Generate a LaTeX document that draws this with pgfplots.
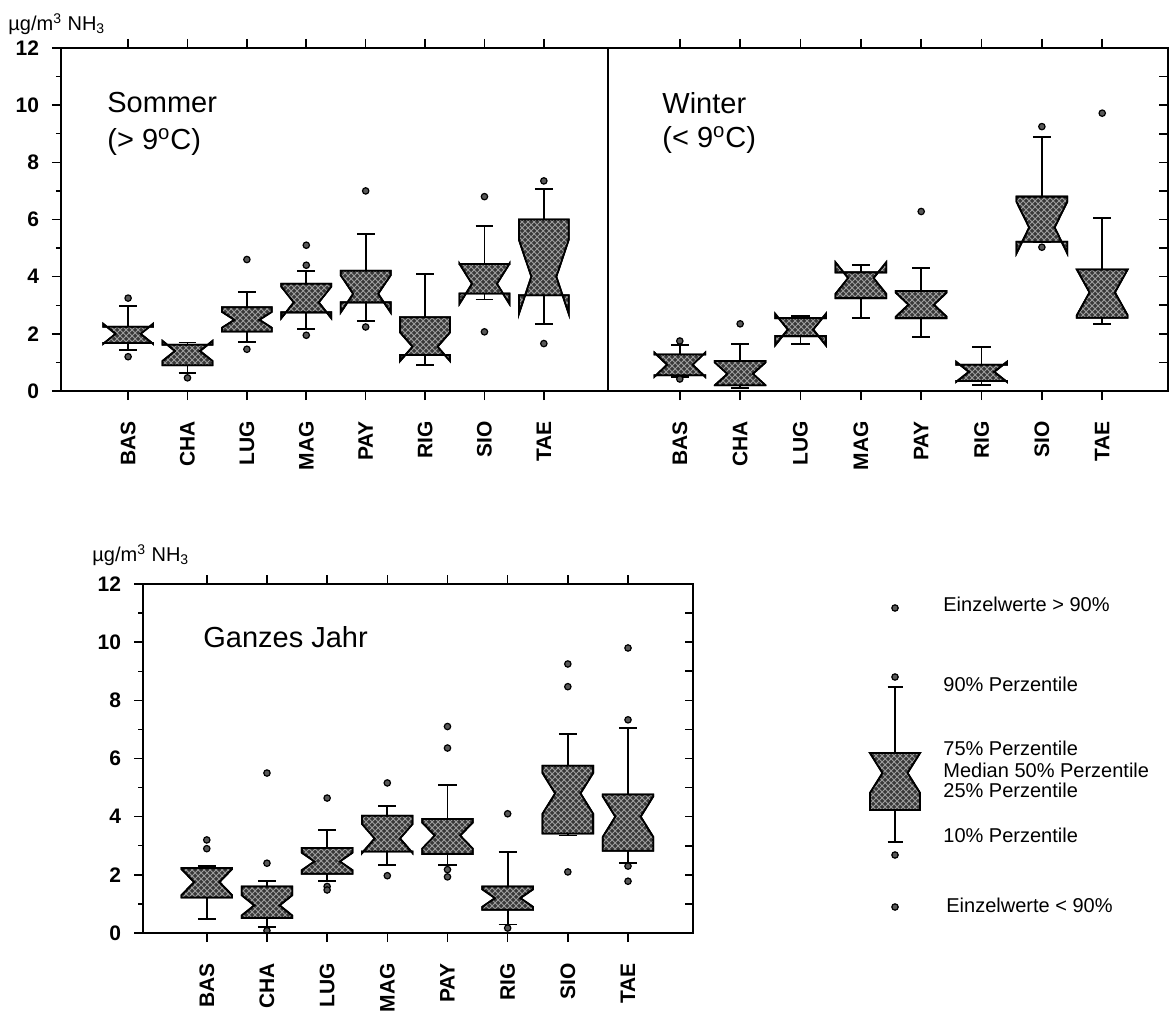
\documentclass[border=0pt]{standalone}
\usepackage{fontspec}
\setmainfont{Liberation Sans}
\usepackage{pgfplots}
\pgfplotsset{compat=1.18}
\usepgfplotslibrary{statistics}
\usetikzlibrary{patterns}
\pgfkeys{/pgfplots/boxplot/notch/.initial=0}
\tikzset{boxfill/.style={draw=black, line width=0.9pt, fill=black!78,
   postaction={pattern=crosshatch, pattern color=black!38}}}
\pgfplotsset{
 nb/.style={black, line width=0.9pt, solid,
   mark=*, mark size=1.6pt, mark options={fill=black!65, draw=black, line width=0.6pt},
   boxplot prepared={#1},
   boxplot/draw direction=y,
   boxplot/box extend=0.84,
   boxplot/whisker extend=0.3,
   boxplot/draw/median/.code={},
   boxplot/draw/box/.code={%
     \pgfmathsetmacro\bqa{\pgfplotsboxplotvalue{lower quartile}}%
     \pgfmathsetmacro\bqb{\pgfplotsboxplotvalue{upper quartile}}%
     \pgfmathsetmacro\bmd{\pgfplotsboxplotvalue{median}}%
     \pgfmathsetmacro\bna{\bmd-\pgfplotsboxplotvalue{notch}}%
     \pgfmathsetmacro\bnb{\bmd+\pgfplotsboxplotvalue{notch}}%
     \draw[boxfill] (boxplot box cs:\bqa,0) -- (boxplot box cs:\bna,0)
       -- (boxplot box cs:\bmd,0.25) -- (boxplot box cs:\bnb,0)
       -- (boxplot box cs:\bqb,0) -- (boxplot box cs:\bqb,1)
       -- (boxplot box cs:\bnb,1) -- (boxplot box cs:\bmd,0.75)
       -- (boxplot box cs:\bna,1) -- (boxplot box cs:\bqa,1) -- cycle;}
 },
 panel/.style={scale only axis, anchor=south west,
   ymin=0, ymax=12,
   xtick={0,...,7}, xticklabels={BAS,CHA,LUG,MAG,PAY,RIG,SIO,TAE},
   xtick align=outside,
   axis line style={line width=1pt},
   major tick style={line width=0.8pt, black},
   minor tick style={line width=0.7pt, black},
   major tick length=4.5pt, minor tick length=2.5pt,
   xticklabel style={rotate=90, anchor=east, font=\fontsize{10.5}{12}\selectfont\bfseries},
   xticklabel shift=7pt,
   yticklabel style={font=\fontsize{10.5}{12}\selectfont\bfseries, xshift=-3pt},
   /pgf/number format/assume math mode=true,
   clip=false,
 },
}
\begin{document}
\begin{tikzpicture}
\useasboundingbox (0,0) rectangle (587pt,507pt);
% ---------------- Sommer
\begin{axis}[panel, at={(30.5pt,311.5pt)}, width=273.5pt, height=171.5pt,
  xmin=-1.13, xmax=8.08,
  ytick={0,2,...,12}, minor ytick={1,3,...,11}, ytick pos=left, ytick align=outside]
\addplot[nb={draw position=0, lower whisker=1.43, lower quartile=1.68, median=2.0, upper quartile=2.25, upper whisker=2.98, notch=0.35}] table[row sep=\\,y index=0]{d\\3.25\\1.2\\};
\addplot[nb={draw position=1, lower whisker=0.63, lower quartile=0.9, median=1.4, upper quartile=1.62, upper whisker=1.7, notch=0.35}] table[row sep=\\,y index=0]{d\\0.46\\};
\addplot[nb={draw position=2, lower whisker=1.72, lower quartile=2.08, median=2.49, upper quartile=2.93, upper whisker=3.47, notch=0.28}] table[row sep=\\,y index=0]{d\\4.6\\1.46\\};
\addplot[nb={draw position=3, lower whisker=2.16, lower quartile=2.75, median=3.1, upper quartile=3.75, upper whisker=4.21, notch=0.55}] table[row sep=\\,y index=0]{d\\5.1\\4.4\\1.95\\};
\addplot[nb={draw position=4, lower whisker=2.45, lower quartile=3.1, median=3.4, upper quartile=4.21, upper whisker=5.48, notch=0.65}] table[row sep=\\,y index=0]{d\\7.0\\2.24\\};
\addplot[nb={draw position=5, lower whisker=0.9, lower quartile=1.26, median=1.55, upper quartile=2.58, upper whisker=4.1, notch=0.5}] coordinates {};
\addplot[nb={draw position=6, lower whisker=3.2, lower quartile=3.41, median=3.75, upper quartile=4.44, upper whisker=5.77, notch=0.7}] table[row sep=\\,y index=0]{d\\6.8\\2.07\\};
\addplot[nb={draw position=7, lower whisker=2.35, lower quartile=3.35, median=4.0, upper quartile=6.0, upper whisker=7.06, notch=1.3}] table[row sep=\\,y index=0]{d\\7.35\\1.66\\};
\end{axis}
% ---------------- Winter
\begin{axis}[panel, at={(304pt,311.5pt)}, width=280pt, height=171.5pt,
  xmin=-1.19, xmax=8.09,
  ytick={0,1,...,12}, ytick pos=right, ytick align=inside, yticklabel={\relax}]
\addplot[nb={draw position=0, lower whisker=0.5, lower quartile=0.55, median=0.92, upper quartile=1.28, upper whisker=1.62, notch=0.42}] table[row sep=\\,y index=0]{d\\1.75\\0.42\\};
\addplot[nb={draw position=1, lower whisker=0.1, lower quartile=0.2, median=0.6, upper quartile=1.05, upper whisker=1.65, notch=0.4}] table[row sep=\\,y index=0]{d\\2.35\\};
\addplot[nb={draw position=2, lower whisker=1.65, lower quartile=1.92, median=2.15, upper quartile=2.55, upper whisker=2.62, notch=0.55}] coordinates {};
\addplot[nb={draw position=3, lower whisker=2.55, lower quartile=3.25, median=3.95, upper quartile=4.15, upper whisker=4.4, notch=0.55}] coordinates {};
\addplot[nb={draw position=4, lower whisker=1.88, lower quartile=2.55, median=3.02, upper quartile=3.5, upper whisker=4.3, notch=0.42}] table[row sep=\\,y index=0]{d\\6.28\\};
\addplot[nb={draw position=5, lower whisker=0.2, lower quartile=0.35, median=0.67, upper quartile=0.92, upper whisker=1.53, notch=0.35}] coordinates {};
\addplot[nb={draw position=6, lower whisker=5.2, lower quartile=5.22, median=5.72, upper quartile=6.8, upper whisker=8.9, notch=0.9}] table[row sep=\\,y index=0]{d\\9.25\\5.03\\};
\addplot[nb={draw position=7, lower whisker=2.35, lower quartile=2.56, median=3.45, upper quartile=4.25, upper whisker=6.05, notch=0.8}] table[row sep=\\,y index=0]{d\\9.72\\};
\end{axis}
% ---------------- Ganzes Jahr
\begin{axis}[panel, at={(71.5pt,40.5pt)}, width=275pt, height=174.5pt,
  xmin=-1.06, xmax=8.08,
  ytick={0,2,...,12}, minor ytick={1,3,...,11}, ytick pos=left, ytick align=outside]
\addplot[nb={draw position=0, lower whisker=0.48, lower quartile=1.22, median=1.75, upper quartile=2.23, upper whisker=2.3, notch=0.45}] table[row sep=\\,y index=0]{d\\3.2\\2.9\\};
\addplot[nb={draw position=1, lower whisker=0.2, lower quartile=0.52, median=0.95, upper quartile=1.6, upper whisker=1.8, notch=0.35}] table[row sep=\\,y index=0]{d\\5.5\\2.4\\0.08\\};
\addplot[nb={draw position=2, lower whisker=1.78, lower quartile=2.04, median=2.46, upper quartile=2.92, upper whisker=3.53, notch=0.3}] table[row sep=\\,y index=0]{d\\4.64\\1.6\\1.48\\};
\addplot[nb={draw position=3, lower whisker=2.35, lower quartile=2.8, median=3.25, upper quartile=4.03, upper whisker=4.38, notch=0.5}] table[row sep=\\,y index=0]{d\\5.16\\1.97\\};
\addplot[nb={draw position=4, lower whisker=2.35, lower quartile=2.72, median=3.35, upper quartile=3.92, upper whisker=5.1, notch=0.45}] table[row sep=\\,y index=0]{d\\7.1\\6.36\\2.18\\1.93\\};
\addplot[nb={draw position=5, lower whisker=0.29, lower quartile=0.8, median=1.2, upper quartile=1.6, upper whisker=2.79, notch=0.3}] table[row sep=\\,y index=0]{d\\4.1\\0.17\\};
\addplot[nb={draw position=6, lower whisker=3.35, lower quartile=3.42, median=4.8, upper quartile=5.75, upper whisker=6.85, notch=0.7}] table[row sep=\\,y index=0]{d\\9.25\\8.47\\2.1\\};
\addplot[nb={draw position=7, lower whisker=2.4, lower quartile=2.83, median=4.0, upper quartile=4.76, upper whisker=7.05, notch=0.7}] table[row sep=\\,y index=0]{d\\9.8\\7.33\\2.3\\1.78\\};
\end{axis}
\begin{axis}[scale only axis, anchor=south west, at={(71.5pt,40.5pt)}, width=275pt, height=174.5pt,
  xmin=-1.06, xmax=8.08, ymin=0, ymax=12, xtick=\empty,
  axis line style={line width=1pt}, major tick style={line width=0.8pt, black},
  ytick={0,1,...,12}, ytick pos=right, ytick align=inside, yticklabel={\relax}, major tick length=4pt]
\end{axis}
% ---------------- legend (y in tenths of px above y=930px)
\begin{axis}[hide axis, scale only axis, anchor=south west, at={(422.5pt,42pt)},
  width=50pt, height=175pt, xmin=0, xmax=2, ymin=0, ymax=35, clip=false]
\addplot[nb={draw position=1, lower whisker=8.8, lower quartile=12.0, median=15.7, upper quartile=17.7, upper whisker=24.3, notch=2.0}, boxplot/box extend=1.0] table[row sep=\\,y index=0]{d\\32.2\\25.3\\7.5\\2.3\\};
\end{axis}
\begin{scope}[every node/.style={anchor=west, inner sep=0pt, font=\fontsize{10}{12}\selectfont}]
\node at (471.5pt,205pt) {Einzelwerte > 90\%};
\node at (471.5pt,165pt) {90\% Perzentile};
\node at (471.5pt,133pt) {75\% Perzentile};
\node at (471.5pt,122pt) {Median 50\% Perzentile};
\node at (471.5pt,112pt) {25\% Perzentile};
\node at (471.5pt,89.5pt) {10\% Perzentile};
\node at (473pt,54.5pt) {Einzelwerte < 90\%};
\node at (4pt,495pt) {µg/m\textsuperscript{3} NH\textsubscript{3}};
\node at (46pt,229.5pt) {µg/m\textsuperscript{3} NH\textsubscript{3}};
\end{scope}
\begin{scope}[every node/.style={anchor=west, inner sep=0pt, font=\fontsize{14.5}{17}\selectfont}]
\node at (53.5pt,455.5pt) {Sommer};
\node at (53.5pt,436pt) {(> 9\textsuperscript{o}C)};
\node at (331pt,455.5pt) {Winter};
\node at (331pt,437pt) {(< 9\textsuperscript{o}C)};
\node at (101.5pt,188.5pt) {Ganzes Jahr};
\end{scope}
\end{tikzpicture}
\end{document}
